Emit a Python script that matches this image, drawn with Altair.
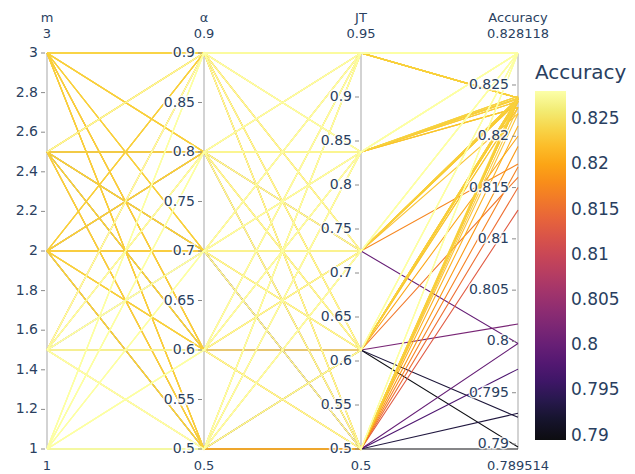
import altair as alt
import pandas as pd

# ---- grid levels of the three parameters ----
M_LEVELS = [1, 1.5, 2, 2.5, 3]
A_LEVELS = [0.5, 0.6, 0.7, 0.8, 0.9]
JT_LEVELS = [0.5, 0.6125, 0.725, 0.8375, 0.95]

# ---- accuracy: rows = alpha level, columns = JT level ----
ACC_M1 = [
    [0.789514, 0.828118, 0.828118, 0.828118, 0.828118],
    [0.828118, 0.828118, 0.828118, 0.828118, 0.828118],
    [0.828118, 0.828118, 0.828118, 0.828118, 0.828118],
    [0.828118, 0.828118, 0.828118, 0.828118, 0.828118],
    [0.828118, 0.828118, 0.828118, 0.828118, 0.828118],
]
ACC_M15 = [
    [0.8190, 0.8237, 0.828118, 0.828118, 0.828118],
    [0.8234, 0.8017, 0.8237, 0.828118, 0.828118],
    [0.7998, 0.8236, 0.828118, 0.828118, 0.828118],
    [0.8228, 0.8237, 0.8234, 0.828118, 0.828118],
    [0.8150, 0.8200, 0.8236, 0.828118, 0.828118],
]
ACC_M2 = [
    [0.8237, 0.7926, 0.8234, 0.8237, 0.82374],
    [0.8210, 0.8228, 0.8237, 0.8239, 0.82374],
    [0.8234, 0.8236, 0.8173, 0.8234, 0.82374],
    [0.7973, 0.8234, 0.8236, 0.8228, 0.82374],
    [0.8236, 0.8237, 0.8222, 0.8237, 0.82374],
]
ACC_M25 = [
    [0.8128, 0.8237, 0.8236, 0.8234, 0.82374],
    [0.8236, 0.7897, 0.8234, 0.8237, 0.82374],
    [0.7930, 0.8234, 0.8237, 0.8228, 0.82374],
    [0.8234, 0.8236, 0.7998, 0.8239, 0.82374],
    [0.8237, 0.8228, 0.8236, 0.8237, 0.828118],
]
ACC_M3 = [
    [0.8170, 0.8234, 0.8237, 0.8236, 0.82374],
    [0.8222, 0.8160, 0.8236, 0.8234, 0.82374],
    [0.8237, 0.8236, 0.8234, 0.8237, 0.82374],
    [0.8234, 0.8234, 0.8237, 0.8228, 0.82374],
    [0.8239, 0.8237, 0.8236, 0.8239, 0.82374],
]
ACC_BY_M = [ACC_M1, ACC_M15, ACC_M2, ACC_M25, ACC_M3]

# ---- axes ----
DIM_TITLES = ["m", "α", "JT", "Accuracy"]
DIM_MIN = [1, 0.5, 0.5, 0.789514]
DIM_MAX = [3, 0.9, 0.95, 0.828118]
RANGE_TOP = ["3", "0.9", "0.95", "0.828118"]
RANGE_BOTTOM = ["1", "0.5", "0.5", "0.789514"]

M_TICKS = [1, 1.2, 1.4, 1.6, 1.8, 2, 2.2, 2.4, 2.6, 2.8, 3]
M_TICK_LABELS = ["1", "1.2", "1.4", "1.6", "1.8", "2", "2.2", "2.4", "2.6", "2.8", "3"]
A_TICKS = [0.5, 0.55, 0.6, 0.65, 0.7, 0.75, 0.8, 0.85, 0.9]
A_TICK_LABELS = ["0.5", "0.55", "0.6", "0.65", "0.7", "0.75", "0.8", "0.85", "0.9"]
JT_TICKS = [0.5, 0.55, 0.6, 0.65, 0.7, 0.75, 0.8, 0.85, 0.9]
JT_TICK_LABELS = ["0.5", "0.55", "0.6", "0.65", "0.7", "0.75", "0.8", "0.85", "0.9"]
ACC_TICKS = [0.79, 0.795, 0.8, 0.805, 0.81, 0.815, 0.82, 0.825]
ACC_TICK_LABELS = ["0.79", "0.795", "0.8", "0.805", "0.81", "0.815", "0.82", "0.825"]
LEGEND_VALUES = [0.79, 0.795, 0.8, 0.805, 0.81, 0.815, 0.82, 0.825]

FONT = "DejaVu Sans"
TXT = "#2a3f5f"


def norm(k, v):
    return (v - DIM_MIN[k]) / (DIM_MAX[k] - DIM_MIN[k])


# ---- build the records ----
records = []
for mi, m in enumerate(M_LEVELS):
    for ai, a in enumerate(A_LEVELS):
        for ji, jt in enumerate(JT_LEVELS):
            records.append((m, a, jt, ACC_BY_M[mi][ai][ji]))
records.sort(key=lambda r: r[3])

rows = []
for idx, rec in enumerate(records):
    for k in range(4):
        rows.append({"idx": idx, "pos": k, "val": norm(k, rec[k]), "Accuracy": rec[3]})
lines_df = pd.DataFrame(rows)
# drawing tiers: low accuracies below, golden in the middle, best on top
tier_low = lines_df[lines_df["Accuracy"] < 0.822]
tier_mid = lines_df[(lines_df["Accuracy"] >= 0.822) & (lines_df["Accuracy"] < 0.828)]
tier_top = lines_df[lines_df["Accuracy"] >= 0.828]

ticks = []
for k, (tv, tl) in enumerate([(M_TICKS, M_TICK_LABELS), (A_TICKS, A_TICK_LABELS),
                               (JT_TICKS, JT_TICK_LABELS), (ACC_TICKS, ACC_TICK_LABELS)]):
    for v, l in zip(tv, tl):
        ticks.append({"pos": k, "val": norm(k, v), "label": l})
ticks_df = pd.DataFrame(ticks)

axes_df = pd.DataFrame({"pos": [0, 1, 2, 3], "lo": [0, 0, 0, 0], "hi": [1, 1, 1, 1],
                        "title": DIM_TITLES, "top": RANGE_TOP, "bottom": RANGE_BOTTOM})

X = alt.X("pos:Q", scale=alt.Scale(domain=[0, 3], nice=False, zero=False), axis=None)
Y_SCALE = alt.Scale(domain=[0, 1], nice=False, zero=False)
COLOR_SCALE = alt.Scale(scheme="inferno", domain=[DIM_MIN[3], DIM_MAX[3]], nice=False, zero=False)
LEGEND = alt.Legend(
    title="Accuracy", orient="none", legendX=488, legendY=10, direction="vertical",
    gradientLength=349, gradientThickness=31, values=LEGEND_VALUES, format=".3~f",
    titleFontSize=20, labelFontSize=17, titleFont=FONT, labelFont=FONT,
    titleColor=TXT, labelColor=TXT, titleFontWeight="normal", labelOffset=5,
    titlePadding=8, labelOverlap=False, gradientStrokeWidth=0, padding=0,
)

axis_lines = alt.Chart(axes_df).mark_rule(color="#c4c4c4", strokeWidth=1.5).encode(
    x=X, y=alt.Y("lo:Q", scale=Y_SCALE, axis=None), y2="hi:Q")


def poly(df, opacity):
    return alt.Chart(df).mark_line(strokeWidth=1.1, opacity=opacity).encode(
        x=X,
        y=alt.Y("val:Q", scale=Y_SCALE, axis=None),
        detail="idx:N",
        color=alt.Color("Accuracy:Q", scale=COLOR_SCALE, legend=LEGEND),
        order=alt.Order("pos:Q"),
    )


tick_marks = alt.Chart(ticks_df).mark_rule(color="#8a8a8a", xOffset=-6, x2Offset=-2).encode(
    x=X, x2="pos:Q", y=alt.Y("val:Q", scale=Y_SCALE, axis=None))

tick_halo = alt.Chart(ticks_df).mark_text(
    align="right", baseline="middle", dx=-9, font=FONT, fontSize=14,
    stroke="white", strokeWidth=3, strokeOpacity=0.8, color="white").encode(
    x=X, y=alt.Y("val:Q", scale=Y_SCALE, axis=None), text="label:N")

tick_text = alt.Chart(ticks_df).mark_text(
    align="right", baseline="middle", dx=-9, font=FONT, fontSize=14, color=TXT).encode(
    x=X, y=alt.Y("val:Q", scale=Y_SCALE, axis=None), text="label:N")

titles = alt.Chart(axes_df).mark_text(
    align="center", baseline="middle", dy=-35, font=FONT, fontSize=13, color=TXT).encode(
    x=X, y=alt.Y("hi:Q", scale=Y_SCALE, axis=None), text="title:N")

top_range = alt.Chart(axes_df).mark_text(
    align="center", baseline="middle", dy=-19, font=FONT, fontSize=13, color=TXT).encode(
    x=X, y=alt.Y("hi:Q", scale=Y_SCALE, axis=None), text="top:N")

bottom_range = alt.Chart(axes_df).mark_text(
    align="center", baseline="middle", dy=17, font=FONT, fontSize=13, color=TXT).encode(
    x=X, y=alt.Y("lo:Q", scale=Y_SCALE, axis=None), text="bottom:N")

chart = alt.layer(
    axis_lines, poly(tier_low, 0.95), poly(tier_mid, 0.9), poly(tier_top, 1.0),
    tick_marks, tick_halo, tick_text, titles, top_range, bottom_range
).properties(
    width=471, height=396,
    autosize=alt.AutoSizeParams(type="none"),
    padding={"left": 39, "top": 45, "right": 109, "bottom": 26},
).configure_view(stroke=None)

chart.save("out.html", embed_options={"renderer": "svg", "actions": False})
